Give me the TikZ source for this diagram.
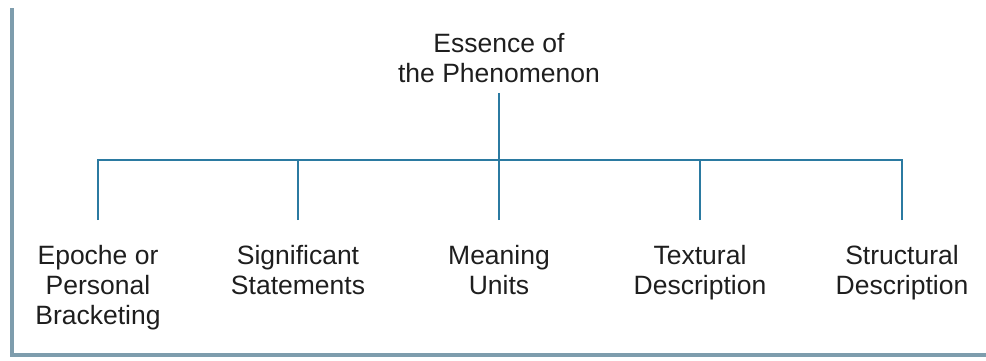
\documentclass[tikz,border=0pt]{standalone}
\usepackage{fontspec}
\setmainfont{Liberation Sans}
\definecolor{conn}{HTML}{2B7AA1}
\definecolor{frame}{HTML}{7E9DAD}
\definecolor{txt}{HTML}{1E1E1E}
\begin{document}
\begin{tikzpicture}[x=1pt,y=-1pt,
  lbl/.style={align=center,anchor=north,inner sep=0pt,text=txt,
    font=\fontsize{26.5}{30}\selectfont},
  link/.style={draw=conn,line width=2.6pt},
  edge/.style={draw=frame,line width=3.5pt}]
\useasboundingbox (0,0) rectangle (986,360);
\coordinate (ftop) at (12,8);
\coordinate (fcorner) at (12,355);
\coordinate (fright) at (986,355);
\draw[edge] (ftop) -- (fcorner) -- (fright);
\node[lbl] (top) at (499,33) {Essence of\\the Phenomenon};
\coordinate (bar) at (0,160);
\node[lbl] (a1) at (98,245) {Epoche or\\Personal\\Bracketing};
\node[lbl] (a2) at (298,245) {Significant\\Statements};
\node[lbl] (a3) at (499,245) {Meaning\\Units};
\node[lbl] (a4) at (700,245) {Textural\\Description};
\node[lbl] (a5) at (902,245) {Structural\\Description};
\draw[link,shorten <=10pt] (top.south) -- (top.south |- bar);
\draw[link,line cap=rect] (a1.north |- bar) -- (a5.north |- bar);
\foreach \n in {a1,a2,a3,a4,a5}
  \draw[link,shorten <=25pt] (\n.north) -- (\n.north |- bar);
\end{tikzpicture}
\end{document}
